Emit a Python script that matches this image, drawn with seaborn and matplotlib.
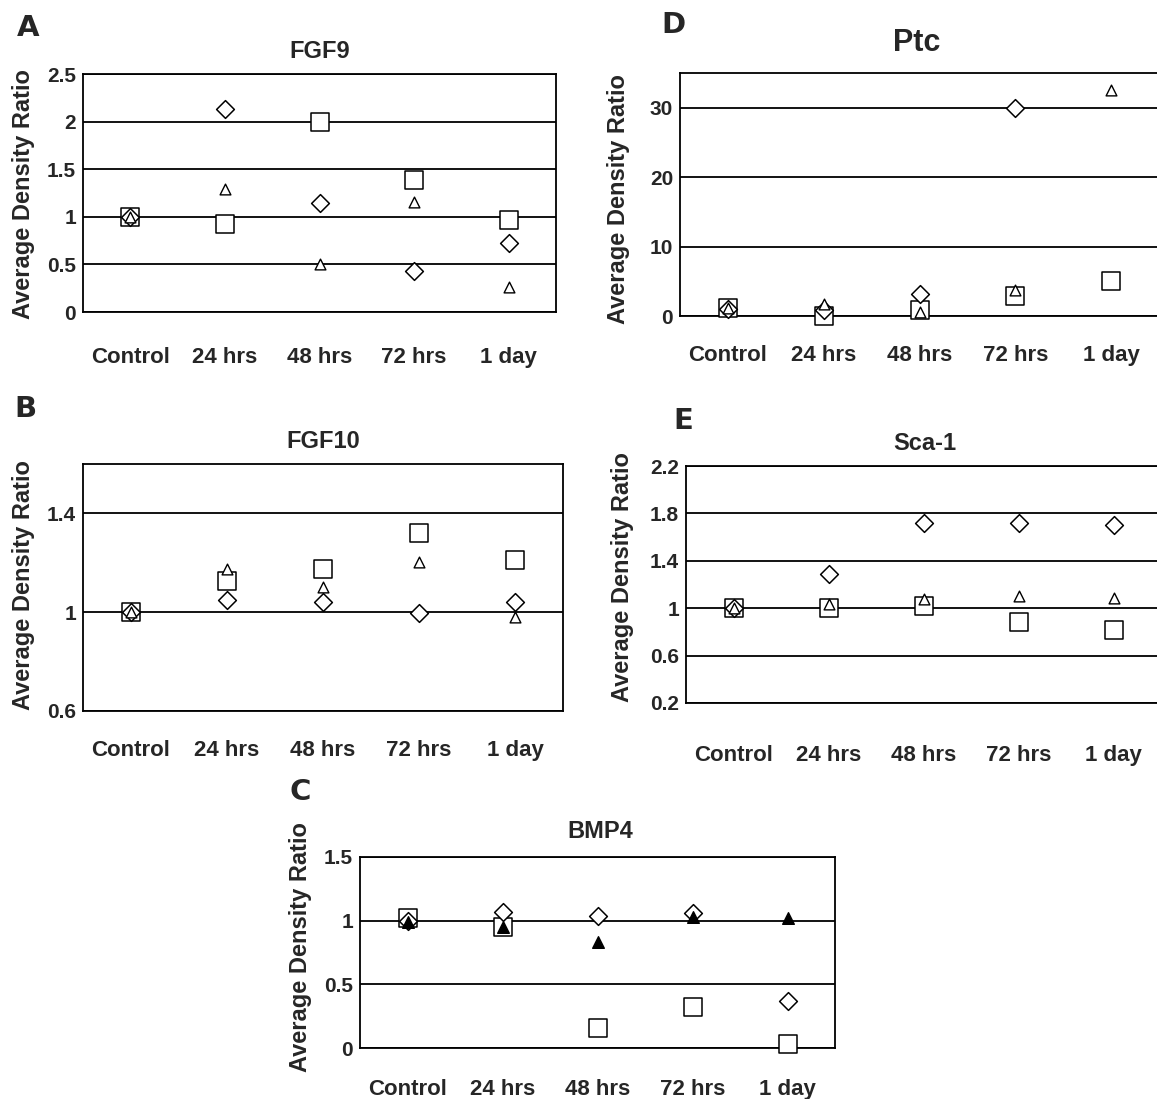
import numpy as np
import pandas as pd
import matplotlib
matplotlib.use('Agg')
import matplotlib.pyplot as plt
import seaborn as sns
from matplotlib.ticker import FuncFormatter, NullFormatter

# Time points shared by all panels
TIMES = ['Control', '24 hrs', '48 hrs', '72 hrs', '1 day']

# A - FGF9
FGF9_SQUARE = [1.0, 0.92, 2.0, 1.39, 0.97]
FGF9_DIAMOND = [1.0, 2.13, 1.15, 0.43, 0.72]
FGF9_TRIANGLE = [1.0, 1.29, 0.5, 1.16, 0.26]

# B - FGF10
FGF10_SQUARE = [1.0, 1.127, 1.174, 1.32, 1.21]
FGF10_DIAMOND = [1.0, 1.05, 1.04, 0.995, 1.04]
FGF10_TRIANGLE = [1.0, 1.176, 1.104, 1.205, 0.98]

# C - BMP4
BMP4_SQUARE = [1.02, 0.95, 0.16, 0.32, 0.03]
BMP4_DIAMOND = [1.0, 1.07, 1.04, 1.06, 0.37]
BMP4_TRIANGLE_FILLED = [0.99, 0.95, 0.83, 1.03, 1.02]

# D - Ptc
PTC_SQUARE = [1.2, 0.0, 0.9, 2.9, 5.0]
PTC_DIAMOND = [1.0, 0.9, 3.2, 30.0, np.nan]
PTC_TRIANGLE = [1.1, 1.7, 0.6, 3.8, 32.5]

# E - Sca-1
SCA1_SQUARE = [1.0, 1.0, 1.02, 0.88, 0.82]
SCA1_DIAMOND = [1.0, 1.29, 1.72, 1.72, 1.70]
SCA1_TRIANGLE = [1.0, 1.036, 1.075, 1.106, 1.09]

W, H = 1157, 1099
FONT = ['Liberation Sans', 'DejaVu Sans']

sns.set_style('white')
plt.rcParams['font.family'] = FONT
plt.rcParams['font.weight'] = 'bold'

MARKERS = {
    'square': dict(marker='s', s=150, color='white', edgecolor='black', linewidth=1.1),
    'diamond': dict(marker='D', s=82, color='white', edgecolor='black', linewidth=1.1),
    'triangle': dict(marker='^', s=60, color='white', edgecolor='black', linewidth=1.0),
    'triangle_filled': dict(marker='^', s=70, color='black', edgecolor='black', linewidth=1.0),
}


def px_axes(fig, left, top, right, bottom):
    return fig.add_axes([left / W, 1 - bottom / H, (right - left) / W, (bottom - top) / H])


def draw_panel(ax, series, ylim, yticks, label_pad):
    for kind, values in series:
        df = pd.DataFrame({'time': TIMES, 'value': values})
        sns.scatterplot(data=df, x='time', y='value', ax=ax, zorder=3, clip_on=False, **MARKERS[kind])

    ax.set_xlim(-0.5, 4.5)
    ax.set_xticks(np.arange(-0.5, 5.0, 1.0))
    ax.xaxis.set_major_formatter(NullFormatter())
    ax.set_xticks(range(len(TIMES)), labels=TIMES, minor=True)
    ax.tick_params(axis='x', which='major', length=5, width=1.3, direction='out', color='black')
    ax.tick_params(axis='x', which='minor', length=0, pad=label_pad, labelsize=16)

    ax.set_ylim(*ylim)
    ax.set_yticks(yticks)
    ax.yaxis.set_major_formatter(FuncFormatter(lambda v, p: f'{v:g}'))
    ax.tick_params(axis='y', length=4, width=1.3, direction='out', pad=1, labelsize=15, color='black')

    ax.grid(axis='y', color='black', linewidth=1.3)
    ax.grid(axis='x', visible=False)
    ax.set_axisbelow(True)
    for side in ['left', 'right', 'top', 'bottom']:
        ax.spines[side].set_visible(True)
        ax.spines[side].set_color('black')
        ax.spines[side].set_linewidth(1.3)
    ax.set_xlabel('')
    ax.set_ylabel('')
    for lab in ax.get_xticklabels(minor=True) + ax.get_yticklabels():
        lab.set_fontweight('bold')


fig = plt.figure(figsize=(W / 100, H / 100), dpi=100)

# A
ax_a = px_axes(fig, 83, 74, 556, 312)
draw_panel(ax_a, [('square', FGF9_SQUARE), ('diamond', FGF9_DIAMOND), ('triangle', FGF9_TRIANGLE)],
           (0, 2.5), [0, 0.5, 1, 1.5, 2, 2.5], 25)

# B
ax_b = px_axes(fig, 83, 464, 563, 711)
draw_panel(ax_b, [('square', FGF10_SQUARE), ('diamond', FGF10_DIAMOND), ('triangle', FGF10_TRIANGLE)],
           (0.6, 1.6), [0.6, 1.0, 1.4], 21)

# C
ax_c = px_axes(fig, 360, 857, 835, 1048)
draw_panel(ax_c, [('square', BMP4_SQUARE), ('diamond', BMP4_DIAMOND), ('triangle_filled', BMP4_TRIANGLE_FILLED)],
           (0, 1.5), [0, 0.5, 1, 1.5], 22)

# D
ax_d = px_axes(fig, 680, 73, 1159, 316)
draw_panel(ax_d, [('square', PTC_SQUARE), ('diamond', PTC_DIAMOND), ('triangle', PTC_TRIANGLE)],
           (0, 35), [0, 10, 20, 30], 21)

# E
ax_e = px_axes(fig, 686, 466, 1161, 703)
draw_panel(ax_e, [('square', SCA1_SQUARE), ('diamond', SCA1_DIAMOND), ('triangle', SCA1_TRIANGLE)],
           (0.2, 2.2), [0.2, 0.6, 1.0, 1.4, 1.8, 2.2], 30)

# titles, y labels and panel letters placed in pixel coordinates
titles = [('FGF9', 320, 52, 17), ('FGF10', 323, 441, 17), ('BMP4', 600, 831, 17),
          ('Ptc', 917, 43, 22), ('Sca-1', 925, 443, 17)]
for text, x, y, size in titles:
    fig.text(x / W, 1 - y / H, text, ha='center', va='center', fontsize=size, fontweight='bold')

ylabels = [(24, 194), (24, 585), (301, 947), (619, 199), (622, 577)]
for x, y in ylabels:
    fig.text(x / W, 1 - y / H, 'Average Density Ratio', rotation=90, ha='center', va='center',
             fontsize=17, fontweight='bold')

letters = [('A', 28, 28), ('B', 25, 409), ('C', 300, 792), ('D', 673, 25), ('E', 683, 421)]
for text, x, y in letters:
    fig.text(x / W, 1 - y / H, text, ha='center', va='center', fontsize=21, fontweight='heavy',
             family=['DejaVu Sans'])

fig.savefig('out.png', dpi=100, facecolor='white')
plt.close(fig)
